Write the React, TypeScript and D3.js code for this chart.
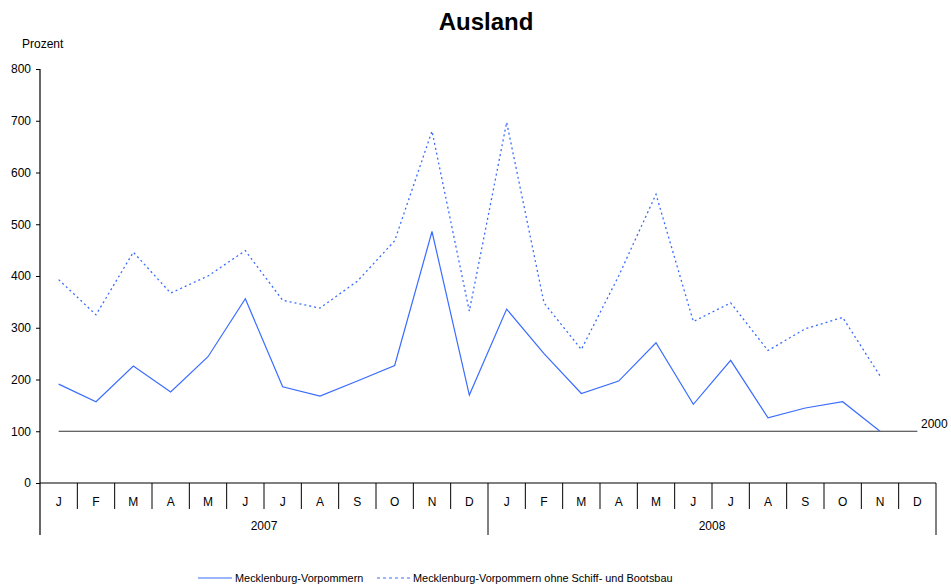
import React, {useEffect, useRef} from 'react';
import * as d3 from 'd3';

const months = ['J', 'F', 'M', 'A', 'M', 'J', 'J', 'A', 'S', 'O', 'N', 'D'];
const years = ['2007', '2008'];
const mv = [191, 157, 226, 176, 244, 356, 186, 168, 197, 227, 486, 170,
    336, 250, 173, 197, 271, 152, 237, 126, 145, 157, 100, null];
const mvOhne = [393, 325, 446, 367, 400, 449, 353, 338, 390, 468, 680, 332,
    697, 348, 258, 400, 558, 312, 348, 256, 298, 320, 207, null];
const baseValue = 100;
const baseLabel = '2000';
const yTicks = [0, 100, 200, 300, 400, 500, 600, 700, 800];
const seriesNames = ['Mecklenburg-Vorpommern', 'Mecklenburg-Vorpommern ohne Schiff- und Bootsbau'];

const W = 951, H = 586;
const left = 40, right = 936, top = 69, bottom = 483;
const blue = '#3a6cff';
const font = '"Liberation Sans", Arial, sans-serif';

const Chart: React.FC = () => {
    const ref = useRef<SVGSVGElement>(null);
    useEffect(() => {
        const svg = d3.select(ref.current);
        svg.selectAll('*').remove();
        const keys = years.flatMap((y) => months.map((m, i) => `${y}-${i}`));
        const x = d3.scaleBand().domain(keys).range([left, right]);
        const y = d3.scaleLinear().domain([0, 800]).range([bottom, top]);
        const cx = (i: number) => x(keys[i])! + x.bandwidth() / 2;

        svg.append('text').attr('x', 486).attr('y', 30).attr('text-anchor', 'middle')
            .attr('font-family', font).attr('font-size', 24).attr('font-weight', 'bold').text('Ausland');
        svg.append('text').attr('x', 22).attr('y', 48).attr('font-family', font)
            .attr('font-size', 12).text('Prozent');

        // y axis
        const ya = svg.append('g').attr('transform', `translate(${left},0)`)
            .call(d3.axisLeft(y).tickValues(yTicks).tickSize(4).tickPadding(5));
        ya.select('.domain').remove();
        ya.selectAll('text').attr('font-family', font).attr('font-size', 12).attr('fill', '#000');
        ya.selectAll('line').attr('stroke', '#000');
        svg.append('line').attr('x1', left).attr('x2', left).attr('y1', top).attr('y2', 535)
            .attr('stroke', '#000').attr('stroke-width', 1.2);

        // x axis with category boxes
        svg.append('line').attr('x1', left).attr('x2', right).attr('y1', bottom).attr('y2', bottom)
            .attr('stroke', '#000').attr('stroke-width', 1.2);
        keys.forEach((k, i) => {
            const x0 = x(k)!;
            if (i > 0 && i % 12 !== 0) {
                svg.append('line').attr('x1', x0).attr('x2', x0).attr('y1', bottom).attr('y2', 509)
                    .attr('stroke', '#000');
            }
            svg.append('text').attr('x', cx(i)).attr('y', 506).attr('text-anchor', 'middle')
                .attr('font-family', font).attr('font-size', 12).text(months[i % 12]);
        });
        years.forEach((yr, j) => {
            const xs = x(keys[j * 12])!;
            const xe = j === years.length - 1 ? right : x(keys[(j + 1) * 12])!;
            svg.append('line').attr('x1', xe).attr('x2', xe).attr('y1', bottom).attr('y2', 535)
                .attr('stroke', '#000');
            svg.append('text').attr('x', (xs + xe) / 2).attr('y', 530).attr('text-anchor', 'middle')
                .attr('font-family', font).attr('font-size', 12).text(yr);
        });

        // base line (2000 = 100)
        svg.append('line').attr('x1', cx(0)).attr('x2', cx(keys.length - 1))
            .attr('y1', y(baseValue)).attr('y2', y(baseValue)).attr('stroke', '#333').attr('stroke-width', 1.2);
        svg.append('text').attr('x', 921).attr('y', y(baseValue) - 3).attr('font-family', font)
            .attr('font-size', 12).text(baseLabel);

        const line = d3.line<number | null>()
            .defined((d) => d !== null)
            .x((d, i) => cx(i))
            .y((d) => y(d as number));

        svg.append('path').attr('d', line(mvOhne)).attr('fill', 'none').attr('stroke', blue)
            .attr('stroke-width', 1.3).attr('stroke-dasharray', '2,3');
        svg.append('path').attr('d', line(mv)).attr('fill', 'none').attr('stroke', blue)
            .attr('stroke-width', 1.2);

        // legend
        const ly = 578;
        svg.append('line').attr('x1', 198).attr('x2', 232).attr('y1', ly).attr('y2', ly)
            .attr('stroke', blue).attr('stroke-width', 1.2);
        svg.append('text').attr('x', 235).attr('y', ly + 4).attr('font-family', font)
            .attr('font-size', 10.9).text(seriesNames[0]);
        svg.append('line').attr('x1', 377).attr('x2', 410).attr('y1', ly).attr('y2', ly)
            .attr('stroke', blue).attr('stroke-width', 1).attr('stroke-dasharray', '3,3');
        svg.append('text').attr('x', 413).attr('y', ly + 4).attr('font-family', font)
            .attr('font-size', 10.9).text(seriesNames[1]);
    }, []);

    return <svg ref={ref} width={W} height={H}
        style={{position: 'absolute', left: 0, top: 0, background: '#fff'}} />;
};

export default function App() {
    return <Chart />;
}
